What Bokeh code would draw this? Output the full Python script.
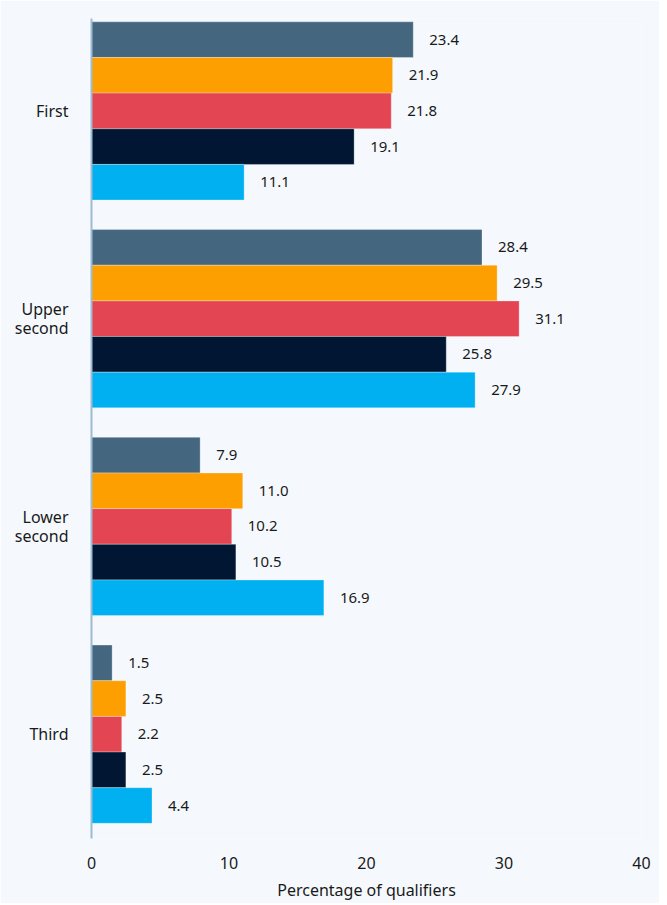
from bokeh.plotting import figure
from bokeh.models import ColumnDataSource, Range1d, FixedTicker, LabelSet
from bokeh.transform import dodge
from bokeh.core.properties import value
from bokeh.embed import file_html
from bokeh.resources import INLINE

categories = ["First", "Upper second", "Lower second", "Third"]
category_labels = ["First", "Upper\nsecond", "Lower\nsecond", "Third"]
series_names = ["Series 1", "Series 2", "Series 3", "Series 4", "Series 5"]
series_1 = [23.4, 28.4, 7.9, 1.5]
series_2 = [21.9, 29.5, 11.0, 2.5]
series_3 = [21.8, 31.1, 10.2, 2.2]
series_4 = [19.1, 25.8, 10.5, 2.5]
series_5 = [11.1, 27.9, 16.9, 4.4]
series_values = [series_1, series_2, series_3, series_4, series_5]
colors = ["#44667f", "#fd9f00", "#e44553", "#011632", "#00b0f0"]
x_ticks = [0, 10, 20, 30, 40]

FONT = "Noto Sans"
BG = "#f5f9fd"

n = len(categories)
positions = [n - 1 - i for i in range(n)]  # First at top

p = figure(width=659, height=903, output_backend="svg", toolbar_location=None,
           x_range=Range1d(0, 40), y_range=Range1d(-0.502, 3.445),
           min_border_left=91, min_border_right=18, min_border_top=18,
           min_border_bottom=65)
p.background_fill_color = BG
p.border_fill_color = BG
p.outline_line_color = None
p.grid.visible = False

bar_h = 0.1716
for k, (name, vals, col) in enumerate(zip(series_names, series_values, colors)):
    offset = (2 - k) * bar_h
    src = ColumnDataSource(dict(y=positions, v=vals,
                                lab=[f"{v:.1f}" for v in vals]))
    p.hbar(y=dodge("y", offset), right="v", left=0, height=bar_h, source=src,
           fill_color=col, line_color="white", line_width=0.6, line_alpha=0.5)
    labels = LabelSet(x="v", y=dodge("y", offset), text="lab", source=src,
                      x_offset=16, text_align="left", text_baseline="middle",
                      text_font=value(FONT), text_font_size="15px",
                      text_color="#1a1a1a")
    p.add_layout(labels)

p.yaxis.ticker = FixedTicker(ticks=positions)
p.yaxis.major_label_overrides = {pos: lab for pos, lab in zip(positions, category_labels)}
p.yaxis.axis_line_color = "#9bbcd3"
p.yaxis.axis_line_width = 2
p.yaxis.major_tick_line_color = None
p.yaxis.minor_tick_line_color = None
p.yaxis.major_label_standoff = 17
p.yaxis.major_label_text_font = FONT
p.yaxis.major_label_text_font_size = "16px"
p.yaxis.major_label_text_color = "#1a1a1a"
p.yaxis.major_label_text_align = "right"
p.yaxis.major_label_text_line_height = 0.85

p.xaxis.ticker = FixedTicker(ticks=x_ticks)
p.xaxis.axis_line_color = None
p.xaxis.major_tick_line_color = None
p.xaxis.minor_tick_line_color = None
p.xaxis.major_label_standoff = 12
p.xaxis.major_label_text_font = FONT
p.xaxis.major_label_text_font_size = "16px"
p.xaxis.major_label_text_color = "#1a1a1a"
p.xaxis.axis_label = "Percentage of qualifiers"
p.xaxis.axis_label_text_font = FONT
p.xaxis.axis_label_text_font_size = "16px"
p.xaxis.axis_label_text_font_style = "normal"
p.xaxis.axis_label_text_color = "#1a1a1a"
p.xaxis.axis_label_standoff = 7

open("out.html", "w").write(file_html(p, INLINE))
